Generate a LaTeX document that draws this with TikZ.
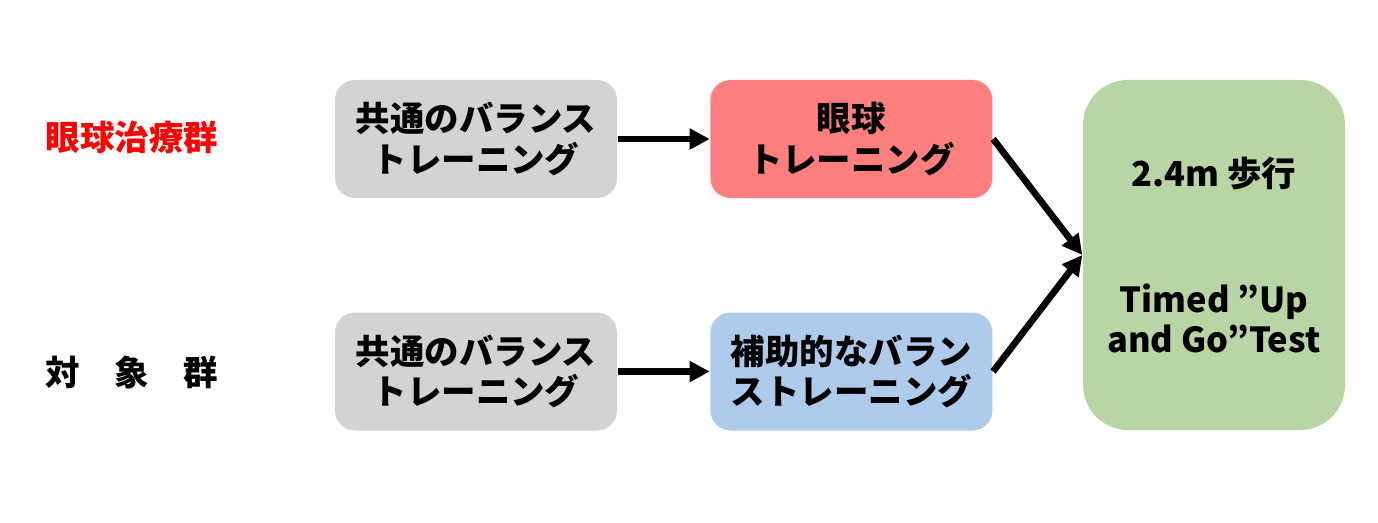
\documentclass[tikz,border=0pt]{standalone}
\usepackage{fontspec}
\setmainfont{Noto Sans CJK JP}
\usepackage{tikz}
\usetikzlibrary{arrows.meta, positioning}

\definecolor{boxgray}{HTML}{D3D3D3}
\definecolor{boxred}{HTML}{FF7F7F}
\definecolor{boxblue}{HTML}{AECBEB}
\definecolor{boxgreen}{HTML}{B8D5A5}

\begin{document}
\begin{tikzpicture}[
    node distance=0.92cm,
    base/.style={rectangle, rounded corners=0.2cm, align=center, minimum width=2.82cm, minimum height=1.18cm, inner sep=0pt, font=\fontsize{9.8}{11.4}\selectfont\bfseries},
    grouplabel/.style={font=\fontsize{9.8}{11.4}\selectfont\bfseries},
    arrow/.style={-{Triangle[length=5.7pt, width=5.7pt]}, line width=1.9pt}
]
\useasboundingbox (0,0) rectangle (13.78,-5.23);

% Gruppen
\node[grouplabel, text=red] (labeleye) at (1.32,-1.37) {眼球治療群};
\node[grouplabel] (labelctrl) at (1.32,-3.72) {対　象　群};

% Obere Reihe
\node[base, fill=boxgray] (commonA) at (4.76,-1.39) {共通のバランス\\トレーニング};
\node[base, fill=boxred, right=of commonA] (eyetr) {眼球\\トレーニング};

% Untere Reihe
\node[base, fill=boxgray] (commonB) at (4.76,-3.715) {共通のバランス\\トレーニング};
\node[base, fill=boxblue, right=of commonB] (auxtr) {補助的なバラン\\ストレーニング};

% Ergebnis
\node[base, fill=boxgreen, rounded corners=0.45cm, minimum width=2.62cm, minimum height=3.5cm] (result) at (12.14,-2.55) {2.4m 歩行\\[24.4pt]Timed ”Up\\and Go”Test};

% Pfeile
\draw[arrow] (commonA) -- (eyetr);
\draw[arrow] (commonB) -- (auxtr);
\draw[arrow] (eyetr.east) -- (result.west);
\draw[arrow] (auxtr.east) -- (result.west);

\end{tikzpicture}
\end{document}
